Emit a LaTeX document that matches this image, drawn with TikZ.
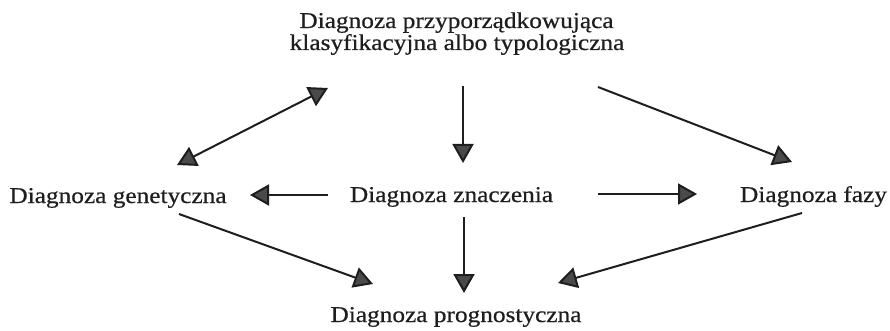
\documentclass[tikz,border=0pt]{standalone}
\usepackage{fontspec}
\setmainfont[FakeStretch=1.12,FakeBold=0.6]{Liberation Serif}
\usetikzlibrary{arrows.meta}
\definecolor{inkc}{HTML}{1E1E1E}
\definecolor{headc}{HTML}{4A4A4A}
\begin{document}
\begin{tikzpicture}[x=1pt,y=-1pt,
  lbl/.style={anchor=base,inner sep=0pt,text=inkc,font=\fontsize{22.6}{22}\selectfont},
  conn/.style={line width=2pt,draw=inkc,-{Triangle[length=19pt,width=21pt,fill=headc]}},
  conn2/.style={line width=2pt,draw=inkc,{Triangle[length=19pt,width=21pt,fill=headc]}-{Triangle[length=19pt,width=21pt,fill=headc]}}]
\useasboundingbox (0,0) rectangle (890,331);
\node[lbl] (top1) at (456.5,28) {Diagnoza przyporządkowująca};
\node[lbl] (top2) at (457,50) {klasyfikacyjna albo typologiczna};
\node[lbl] (gen) at (118,203) {Diagnoza genetyczna};
\node[lbl] (zn) at (451.5,202) {Diagnoza znaczenia};
\node[lbl] (faz) at (813.5,202) {Diagnoza fazy};
\node[lbl] (prog) at (456,322) {Diagnoza prognostyczna};
% connector end points
\coordinate (dA) at (177,165);
\coordinate (dB) at (328,88);
\coordinate (tv1) at (463,86);
\coordinate (tv2) at (463,163);
\coordinate (tr1) at (598,87);
\coordinate (tr2) at (792,162);
\coordinate (l1) at (328,195);
\coordinate (l2) at (250,195);
\coordinate (r1) at (598,194);
\coordinate (r2) at (697,194);
\coordinate (bv1) at (464,217);
\coordinate (bv2) at (464,293);
\coordinate (bl1) at (179,214);
\coordinate (bl2) at (373,284);
\coordinate (br1) at (802,213);
\coordinate (br2) at (558,283);
\draw[conn2] (dA) -- (dB);
\draw[conn] (tv1) -- (tv2);
\draw[conn] (tr1) -- (tr2);
\draw[conn] (l1) -- (l2);
\draw[conn] (r1) -- (r2);
\draw[conn] (bv1) -- (bv2);
\draw[conn] (bl1) -- (bl2);
\draw[conn] (br1) -- (br2);
\end{tikzpicture}
\end{document}
